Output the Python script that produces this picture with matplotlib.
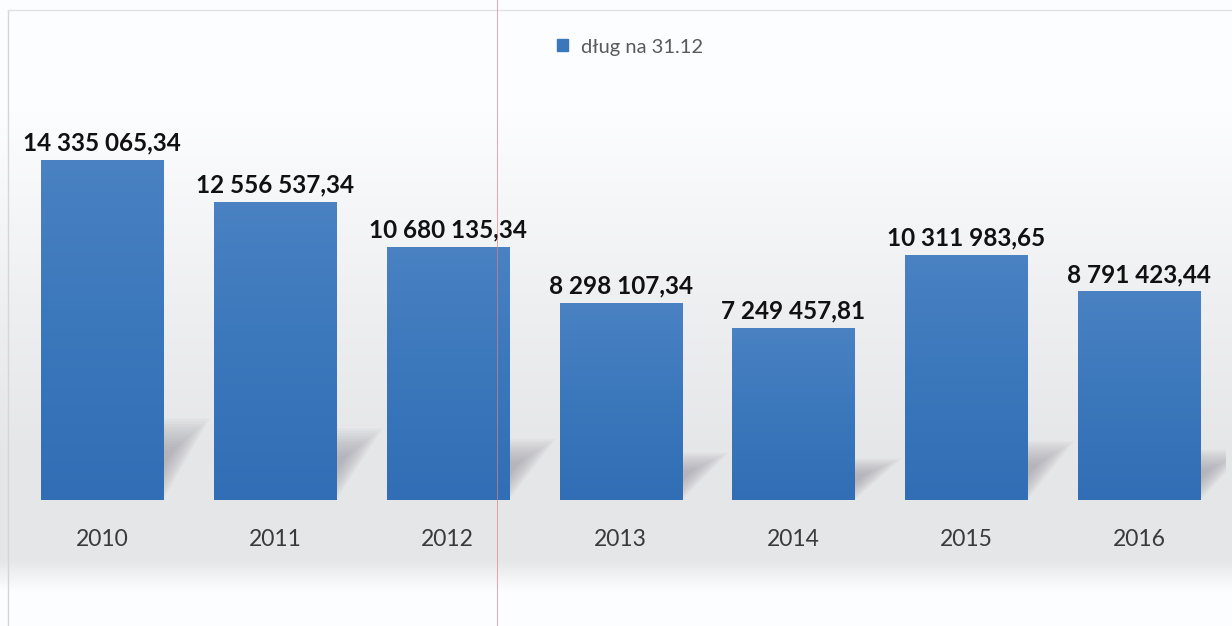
import matplotlib.pyplot as plt
import matplotlib.patches as mpatches
from matplotlib.colors import LinearSegmentedColormap
from matplotlib.lines import Line2D
import numpy as np

years = ['2010', '2011', '2012', '2013', '2014', '2015', '2016']
debt = [14335065.34, 12556537.34, 10680135.34, 8298107.34, 7249457.81, 10311983.65, 8791423.44]
labels = ['14 335 065,34', '12 556 537,34', '10 680 135,34', '8 298 107,34',
          '7 249 457,81', '10 311 983,65', '8 791 423,44']
series_name = 'dług na 31.12'

W, H = 1232, 626
fig = plt.figure(figsize=(W / 100, H / 100), dpi=100)

# background: soft vertical gradient like the scanned excel chart
bg = fig.add_axes([0, 0, 1, 1], zorder=-5)
rows = np.arange(H)
stops_y = [0, 110, 300, 450, 560, 590, H]
stops_v = [1.0, 1.0, 0.945, 0.91, 0.91, 1.0, 1.0]
shade = np.interp(rows, stops_y, stops_v)
img = np.dstack([shade * 0.99, shade * 0.993, shade]).reshape(H, 1, 3)
bg.imshow(np.clip(img, 0, 1), aspect='auto', extent=[0, W, H, 0])
bg.set_xlim(0, W)
bg.set_ylim(H, 0)
bg.plot([8, 8], [10, H], color='#d6d6d6', lw=1)
bg.plot([8, W], [10, 10], color='#e2e2e2', lw=1)
bg.axis('off')

ax = fig.add_axes([15.6 / W, 126 / H, 1210 / W, 440 / H])
ax.set_facecolor('none')
x = np.arange(len(years))
width = 0.706
ymax = 440 / (340 / debt[0])

# blurred perspective shadows behind bars
for xi, v in zip(x, debt):
    h = v * 0.24
    for k in range(12):
        ins = k * 0.01
        skew = 0.27
        top = h * (1 - k * 0.035)
        poly = mpatches.Polygon([
            (xi - width / 2 + ins, 0),
            (xi + width / 2 - ins, 0),
            (xi + width / 2 + skew * top / h - ins, top),
            (xi - width / 2 + skew * top / h + ins, top),
        ], closed=True, facecolor='#8a8a94', edgecolor='none', alpha=0.055, zorder=1)
        ax.add_patch(poly)

bars = ax.bar(x, debt, width=width, color='#3a77bb', zorder=2, label=series_name)
cmap = LinearSegmentedColormap.from_list('bar', ['#316eb5', '#3a77bb', '#4a82c3'])
grad = np.linspace(0, 1, 256).reshape(-1, 1)
for b in bars:
    im = ax.imshow(grad, cmap=cmap, aspect='auto', origin='lower', zorder=3,
                   extent=[b.get_x(), b.get_x() + b.get_width(), 0, b.get_height()])
    im.set_clip_path(b)
ax.set_xlim(-0.5, len(years) - 0.5)
ax.set_ylim(0, ymax)

for xi, v, t in zip(x, debt, labels):
    ax.annotate(t, (xi, v), xytext=(0, 4), textcoords='offset points',
                ha='center', va='bottom', fontsize=17.5, fontweight='bold',
                family='Lato', color='#111111', zorder=5)

ax.set_xticks(x)
ax.set_xticklabels(years, fontsize=16.5, family='Lato', color='#3a3a3a')
ax.tick_params(axis='x', length=0, pad=21)
ax.set_yticks([])
for s in ax.spines.values():
    s.set_visible(False)

leg = fig.legend(handles=[mpatches.Patch(color='#3a77bb', label=series_name)],
                 loc='center', bbox_to_anchor=(630 / W, 1 - 47 / H), frameon=False,
                 prop={'family': 'Lato', 'size': 14.5}, handlelength=0.55, handleheight=0.55,
                 handletextpad=0.6)
for t in leg.get_texts():
    t.set_color('#5a5a5a')

# thin reddish scan line crossing the whole picture
fig.add_artist(Line2D([497 / W, 497 / W], [0, 1], color='#e07f7f', lw=0.6,
                      alpha=0.8, zorder=10))

fig.savefig('out.png', dpi=100)
